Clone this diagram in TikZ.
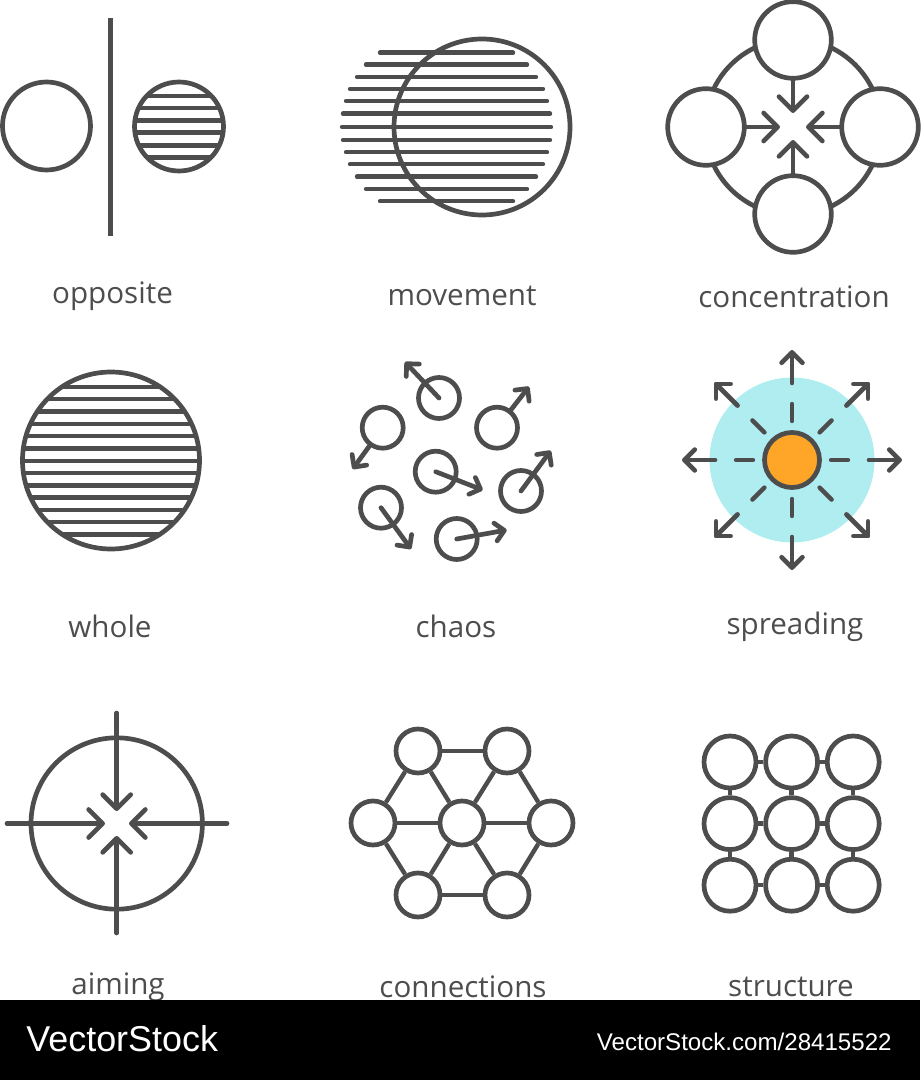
\documentclass[tikz,border=0pt]{standalone}
\usepackage{fontspec}
\setmainfont{Open Sans}
\newfontfamily\stockfont{Liberation Sans}
\usetikzlibrary{arrows.meta,positioning}
\definecolor{ink}{HTML}{4D4D4D}
\definecolor{halo}{HTML}{B0EDF0}
\definecolor{sun}{HTML}{FFA629}
\tikzset{
    ring/.style={circle,draw=ink,line width=2.35pt,inner sep=0pt,minimum size=#1},
    disc/.style={ring=#1,fill=white},
    stripe/.style={draw=ink,line width=2.2pt,line cap=round},
    link/.style={draw=ink,line width=2.2pt},
    bigarrow/.style={draw=ink,line width=2.35pt,line cap=round,-{Straight Barb[round,length=7pt,width=14pt]}},
    midarrow/.style={draw=ink,line width=2.35pt,line cap=round,-{Straight Barb[round,length=5.2pt,width=10.4pt]}},
    smallarrow/.style={draw=ink,line width=2.35pt,line cap=round,-{Straight Barb[round,length=4.5pt,width=9pt]}},
    caption/.style={text=ink,anchor=base,font=\fontsize{14.8}{17}\selectfont},
}
\begin{document}
\begin{tikzpicture}[x=0.5pt,y=-0.5pt]
    \useasboundingbox (0,0) rectangle (920,1080);
    % opposite
    \node[ring=44pt] (opp_l) at (46.5,126) {};
    \begin{scope}
        \clip (179,126.5) circle[radius=44];
        \foreach \y in {96.3,108.3,120.7,132.7,145.5,157.7}
            \draw[stripe] (130,\y) -- (228,\y);
    \end{scope}
    \node[ring=44.5pt] (opp_r) at (179,126.5) {};
    \coordinate (opp_t) at (110.5,18);
    \coordinate (opp_b) at (110.5,236);
    \draw[link] (opp_t) -- (opp_b);
    \node[caption] (opposite) at (112.5,304) {opposite};
    % movement
    \foreach \y/\d in {52.7/66.5,64.7/80.5,77/89.5,89/96.5,101/100.5,113.7/103.5,127/104.5,140/103.5,152.3/100.5,164.3/96.5,176.7/89.5,189/80.5,201.3/66.5}
        \draw[stripe] (446.5-\d,\y) -- (446.5+\d,\y);
    \node[ring=88pt] (move) at (482,127) {};
    \node[caption] (movement) at (462,306) {movement};
    % concentration
    \node[ring=88pt] (conc) at (793,127) {};
    \node[disc=38.3pt] (conc_n) at (793,40) {};
    \node[disc=38.3pt] (conc_w) at (706,127) {};
    \node[disc=38.3pt] (conc_e) at (880,127) {};
    \node[disc=38.3pt] (conc_s) at (793,214) {};
    \coordinate (tip_n) at (793,113);
    \coordinate (tip_w) at (780,127);
    \coordinate (tip_e) at (806,127);
    \coordinate (tip_s) at (793,140);
    \draw[bigarrow] (conc_n) -- (tip_n);
    \draw[bigarrow] (conc_w) -- (tip_w);
    \draw[bigarrow] (conc_e) -- (tip_e);
    \draw[bigarrow] (conc_s) -- (tip_s);
    \node[caption] (concentration) at (794,307) {concentration};
    % whole
    \begin{scope}
        \clip (111,460.5) circle[radius=88.5];
        \foreach \k in {-6,...,6}
            \draw[stripe] (15,460.7+12.3*\k) -- (207,460.7+12.3*\k);
    \end{scope}
    \node[ring=88.5pt] (whole_c) at (111,460.5) {};
    \node[caption] (whole) at (110,637.5) {whole};
    % chaos
    \node[ring=20.5pt] (c_1) at (439,398) {};
    \node[ring=20.5pt] (c_2) at (382.7,427.7) {};
    \node[ring=20.5pt] (c_3) at (497,427.7) {};
    \node[ring=20.5pt] (c_4) at (435.7,471.7) {};
    \node[ring=20.5pt] (c_5) at (521,491) {};
    \node[ring=20.5pt] (c_6) at (381,507.7) {};
    \node[ring=20.5pt] (c_7) at (456.7,539) {};
    \coordinate (t_1) at (405,362);
    \coordinate (t_2) at (352.7,469);
    \coordinate (t_3) at (529,386.7);
    \coordinate (t_4) at (482.7,490);
    \coordinate (t_5) at (550.7,450.7);
    \coordinate (t_6) at (411,549);
    \coordinate (t_7) at (506.7,530);
    \draw[smallarrow] (c_1.center) -- (t_1);
    \draw[smallarrow] (c_2) -- (t_2);
    \draw[smallarrow] (c_3) -- (t_3);
    \draw[smallarrow] (c_4.center) -- (t_4);
    \draw[smallarrow] (c_5.center) -- (t_5);
    \draw[smallarrow] (c_6.center) -- (t_6);
    \draw[smallarrow] (c_7.center) -- (t_7);
    \node[caption] (chaos) at (456,637.5) {chaos};
    % spreading
    \fill[halo] (792,460) circle[radius=82.5];
    \begin{scope}[shift={(792,460)}]
        \foreach \a in {0,45,...,315} {
            \draw[stripe] (\a:39) -- (\a:56);
            \draw[midarrow] (\a:77) -- (\a:110);
        }
    \end{scope}
    \node[ring=27.5pt,fill=sun] (spread) at (792,460) {};
    \node[caption] (spreading) at (795,634) {spreading};
    % aiming
    \node[ring=85.7pt] (aim) at (116.7,823.5) {};
    \coordinate (aim_n) at (116.7,713);
    \coordinate (aim_s) at (116.7,933);
    \coordinate (aim_w) at (7,823.5);
    \coordinate (aim_e) at (227,823.5);
    \coordinate (hit_n) at (116.7,811);
    \coordinate (hit_s) at (116.7,836);
    \coordinate (hit_w) at (105,823.5);
    \coordinate (hit_e) at (129,823.5);
    \draw[bigarrow] (aim_n) -- (hit_n);
    \draw[bigarrow] (aim_s) -- (hit_s);
    \draw[bigarrow] (aim_w) -- (hit_w);
    \draw[bigarrow] (aim_e) -- (hit_e);
    \node[caption] (aiming) at (118,994) {aiming};
    % connections
    \node[ring=22pt] (n_c) at (462,823) {};
    \node[ring=22pt] (n_l) at (373,823) {};
    \node[ring=22pt] (n_r) at (551,823) {};
    \node[ring=22pt] (n_tl) at (418,751) {};
    \node[ring=22pt] (n_tr) at (507,751) {};
    \node[ring=22pt] (n_bl) at (418,895) {};
    \node[ring=22pt] (n_br) at (507,895) {};
    \path[link]
    (n_tl) edge (n_tr)
           edge (n_l)
           edge (n_c)
    (n_tr) edge (n_c)
           edge (n_r)
    (n_l) edge (n_c)
          edge (n_bl)
    (n_r) edge (n_c)
          edge (n_br)
    (n_bl) edge (n_c)
           edge (n_br)
    (n_br) edge (n_c);
    \node[caption] (connections) at (463,997.5) {connections};
    % structure
    \begin{scope}[node distance=30.8pt,on grid]
        \node[ring=26pt] (s_11) at (730,762) {};
        \node[ring=26pt,right=of s_11] (s_12) {};
        \node[ring=26pt,right=of s_12] (s_13) {};
        \node[ring=26pt,below=of s_11] (s_21) {};
        \node[ring=26pt,right=of s_21] (s_22) {};
        \node[ring=26pt,right=of s_22] (s_23) {};
        \node[ring=26pt,below=of s_21] (s_31) {};
        \node[ring=26pt,right=of s_31] (s_32) {};
        \node[ring=26pt,right=of s_32] (s_33) {};
    \end{scope}
    \path[link]
    (s_11) edge (s_12) edge (s_21)
    (s_12) edge (s_13) edge (s_22)
    (s_13) edge (s_23)
    (s_21) edge (s_22) edge (s_31)
    (s_22) edge (s_23) edge (s_32)
    (s_23) edge (s_33)
    (s_31) edge (s_32)
    (s_32) edge (s_33);
    \node[caption] (structure) at (791,996.5) {structure};
    % bottom bar
    \fill[black] (0,1000) rectangle (920,1080);
    \node[text=white,anchor=base west,inner sep=0pt,font=\stockfont\fontsize{17.95}{20}\selectfont] (brand) at (26,1051.5) {VectorStock};
    \node[text=white,anchor=base east,inner sep=0pt,font=\stockfont\fontsize{12.05}{14}\selectfont] (stockid) at (892,1050) {VectorStock.com/28415522};
\end{tikzpicture}
\end{document}
